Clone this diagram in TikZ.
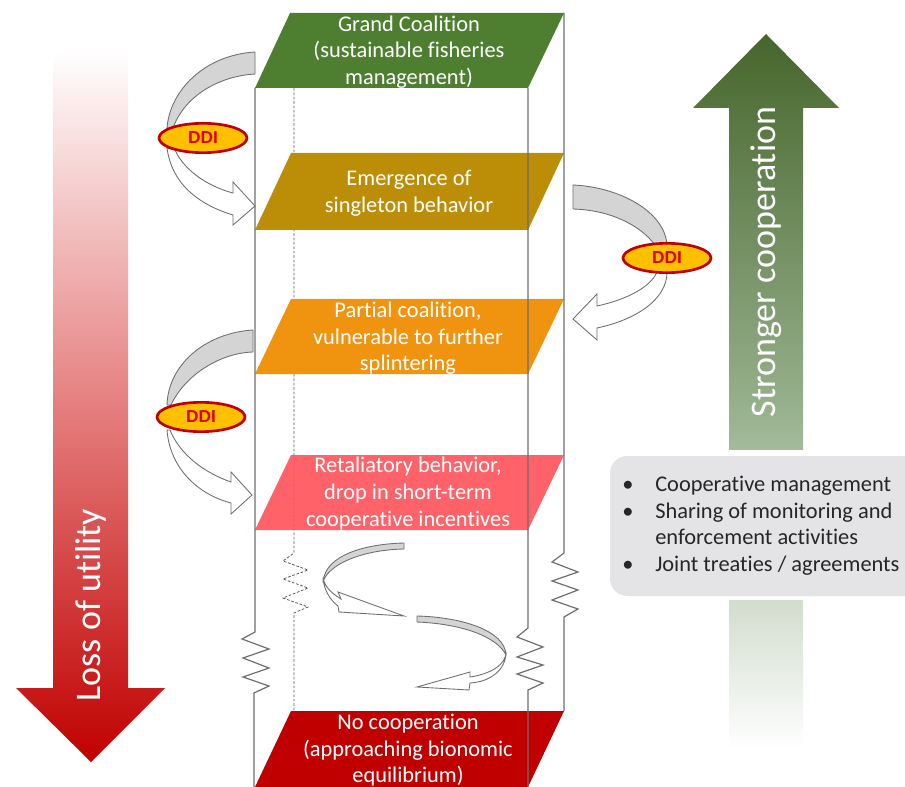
\documentclass[tikz,border=0pt]{standalone}
\usepackage{fontspec}
\setmainfont{Carlito}[Ligatures=NoCommon]
\newfontfamily\ddifont{Liberation Sans}
\usetikzlibrary{shapes.geometric}
\definecolor{cgreen}{HTML}{4E7F31}
\definecolor{cgold}{HTML}{BC8E08}
\definecolor{corange}{HTML}{F0930F}
\definecolor{cpink}{HTML}{FF565C}
\definecolor{cred}{HTML}{C00000}
\definecolor{cline}{HTML}{6E6E6E}
\definecolor{cbox}{HTML}{E4E3E5}
\definecolor{cyel}{HTML}{FFC000}
\definecolor{cmid}{HTML}{93AD88}
\definecolor{ctop}{HTML}{46662C}
\tikzset{
  frameline/.style={draw=cline,line width=0.9pt,line join=miter},
  thinline/.style={draw=black!65,line width=0.6pt,dash pattern=on 2pt off 1.3pt},
  curvegray/.style={draw=cline,line width=0.65pt,fill=black!17,line join=round},
  curvewhite/.style={draw=cline,line width=0.65pt,fill=white,line join=miter},
  leveltext/.style={text=white,align=center,inner sep=0pt,font=\fontsize{16.8}{19.9}\selectfont},
  ddi/.style={ellipse,draw=cred,line width=2pt,fill=cyel,text=red!90!black,
    minimum width=66pt,minimum height=22pt,inner sep=0pt,font=\fontsize{13}{14}\ddifont\bfseries},
  bigtext/.style={text=white,inner sep=0pt,rotate=90,font=\fontsize{27}{29}\selectfont},
  boxtext/.style={anchor=base west,inner sep=0pt,text=black!85,font=\fontsize{16.8}{19}\selectfont},
}
\begin{document}
\begin{tikzpicture}[x=0.75pt,y=-0.75pt]
\useasboundingbox (0,0) rectangle (905,787);
% big arrows
\path[top color=white,bottom color=cred,middle color=red!45!white!90!black]
  (53,50) -- (128,50) -- (128,688) -- (165,688) -- (91,762) -- (16,688) -- (53,688) -- cycle;
\path[top color=ctop,bottom color=white,middle color=cmid]
  (766,34) -- (839,108) -- (803,108) -- (803,750) -- (729,750) -- (729,108) -- (693,108) -- cycle;
\fill[white] (700,450) rectangle (830,600);
\path[fill=cbox,rounded corners=13pt] (610,456) -- (930,456) -- (930,596) -- (610,596) -- cycle;
% dashed back line
\draw[thinline] (294,88) -- (294,553) -- (283,561) -- (308,570) -- (283,579) -- (308,588) -- (283,598) -- (308,607) -- (294,613) -- (294,711);
% levels
\fill[cgreen] (290,13) -- (564,13) -- (528,88) -- (255,88) -- cycle;
\fill[cgold] (291,153) -- (564,153) -- (528,230) -- (255,230) -- cycle;
\fill[corange] (291,299) -- (564,299) -- (528,374) -- (255,374) -- cycle;
\fill[cpink,opacity=0.93] (291,455) -- (564,455) -- (528,530) -- (255,530) -- cycle;
\fill[cred] (291,711) -- (564,711) -- (528,787) -- (255,787) -- cycle;
% frame lines with springs
\draw[frameline] (255,88) -- (255,632) -- (242,639) -- (269,649) -- (243,658) -- (269,668) -- (243,677) -- (269,686) -- (254,693) -- (254,787);
\draw[frameline] (528,88) -- (528,628) -- (517,637) -- (543,647) -- (517,657) -- (543,665) -- (517,674) -- (543,683) -- (528,690) -- (528,787);
\draw[frameline] (564,13) -- (564,553) -- (552,562) -- (578,572) -- (552,581) -- (578,590) -- (552,600) -- (578,609) -- (564,617) -- (564,711);
% level texts
\node[leveltext] (grand) at (409,52) {Grand Coalition\\(sustainable fisheries\\management)};
\node[leveltext] (single) at (409,193.5) {Emergence of\\singleton behavior};
\node[leveltext] (partial) at (408,338.5) {Partial coalition,\\vulnerable to further\\splintering};
\node[leveltext] (retal) at (408,493.5) {Retaliatory behavior,\\drop in short-term\\cooperative incentives};
\node[leveltext] (none) at (408,750.5) {No cooperation\\(approaching bionomic\\equilibrium)};
% DDI arrows, upper left
\draw[curvewhite] (167,148) .. controls (172,185) and (200,205) .. (233,215) -- (233,225) -- (255,206) -- (233,182) -- (233,193) .. controls (210,187) and (185,172) .. (175,150) -- cycle;
\draw[curvegray] (255,52) .. controls (205,55) and (170,90) .. (167,128) -- (173,128) .. controls (185,95) and (220,76) .. (255,74) -- cycle;
\node[ddi] (ddia) at (203,138) {DDI};
% DDI arrows, right
\draw[curvewhite] (667,272) .. controls (667,300) and (635,320) .. (597,328) -- (597,340) -- (573,319) -- (597,294) -- (597,306) .. controls (625,300) and (650,288) .. (657,272) -- cycle;
\draw[curvegray] (573,185) .. controls (620,187) and (665,212) .. (667,245) -- (655,245) .. controls (640,225) and (610,210) .. (573,209) -- cycle;
\node[ddi] (ddib) at (667,258) {DDI};
% DDI arrows, lower left
\draw[curvewhite] (167,430) .. controls (170,470) and (200,495) .. (231,503) -- (231,514) -- (252,495) -- (231,472) -- (231,482) .. controls (205,473) and (180,455) .. (170,430) -- cycle;
\draw[curvegray] (253,330) .. controls (205,333) and (168,365) .. (167,405) -- (171,405) .. controls (185,375) and (220,353) .. (253,352) -- cycle;
\node[ddi] (ddic) at (201,417) {DDI};
% spiral arrows
\draw[curvewhite] (323,578) .. controls (324,590) and (330,600) .. (338,606) -- (339,612) -- (404,616) -- (338,592) -- (341,599) .. controls (333,594) and (325,588) .. (323,578) -- cycle;
\draw[curvegray] (404,543) .. controls (365,544) and (325,555) .. (323,582) .. controls (328,565) and (360,550) .. (404,549) -- cycle;
\draw[curvewhite] (506,652) .. controls (506,665) and (490,674) .. (470,677) -- (470,672) -- (417,687) -- (469,690) -- (470,683) .. controls (490,682) and (506,670) .. (506,652) -- cycle;
\draw[curvegray] (417,616) .. controls (460,617) and (505,630) .. (506,655) .. controls (498,638) and (465,624) .. (417,622) -- cycle;
% rotated labels
\node[bigtext] (loss) at (91,605) {Loss of utility};
\node[bigtext] (strong) at (766,262) {Stronger cooperation};
% box text
\node[boxtext] (bullet1) at (622,491) {•};
\node[boxtext] (t1) at (655,491) {Cooperative management};
\node[boxtext] (bullet2) at (622,518) {•};
\node[boxtext] (t2) at (655,518) {Sharing of monitoring and};
\node[boxtext] (t3) at (655,544) {enforcement activities};
\node[boxtext] (bullet3) at (622,571) {•};
\node[boxtext] (t4) at (655,571) {Joint treaties / agreements};
\end{tikzpicture}
\end{document}
